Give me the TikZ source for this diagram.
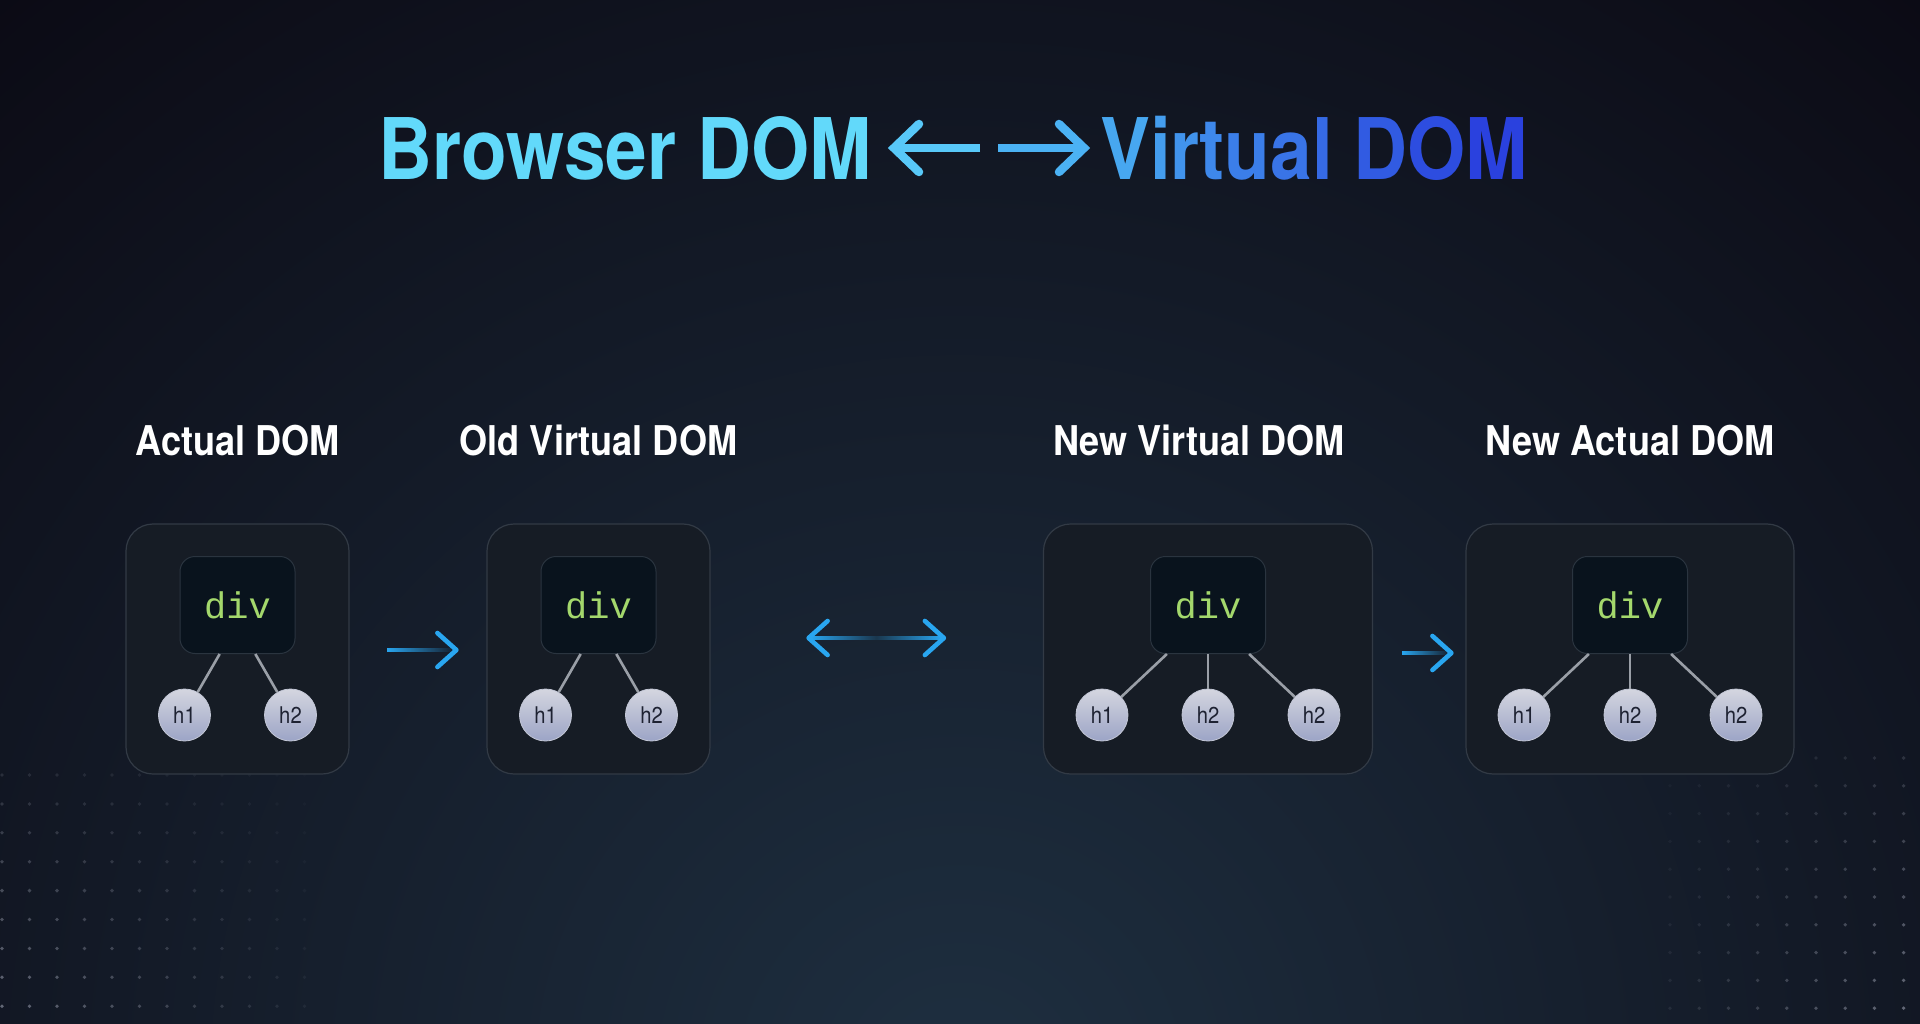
\documentclass[tikz,border=0pt]{standalone}
\usepackage{fontspec}
\usetikzlibrary{positioning,fadings,calc}

\newfontfamily\grotesk[FakeStretch=0.88]{TeX Gyre Heros}
\newfontfamily\codefont{Liberation Mono}

\definecolor{bgc}{HTML}{0B0A14}
\definecolor{glowc}{HTML}{1E2F40}
\definecolor{dotc}{HTML}{767B8A}
\definecolor{cardc}{HTML}{161C25}
\definecolor{cardedge}{HTML}{323A45}
\definecolor{divc}{HTML}{09131D}
\definecolor{divedge}{HTML}{2A343F}
\definecolor{divtext}{HTML}{A4D86C}
\definecolor{leaftop}{HTML}{D4D6E0}
\definecolor{leafbot}{HTML}{9CA4C6}
\definecolor{leafedge}{HTML}{C3C7D6}
\definecolor{leaftext}{HTML}{1E2232}
\definecolor{linkc}{HTML}{9A9FA7}
\definecolor{flowc}{HTML}{29A6F0}
\definecolor{browsc}{HTML}{62D9FA}
\definecolor{arrl}{HTML}{58C8F8}
\definecolor{arrr}{HTML}{4BB2F4}
\definecolor{virA}{HTML}{47A7F0}
\definecolor{virB}{HTML}{2A41DE}

\newcommand\gl[2]{\textcolor{virB!#1!virA}{#2}}

\tikzfading[name=midfade, left color=transparent!0, right color=transparent!0, middle color=transparent!85]

\tikzset{
  title/.style={inner sep=0pt, font=\grotesk\bfseries\fontsize{85}{90}\selectfont},
  head/.style={inner sep=0pt, anchor=base, text=white, font=\grotesk\bfseries\fontsize{41}{46}\selectfont},
  card/.style={draw=cardedge, line width=1.2pt, fill=cardc, rounded corners=27pt, minimum height=250pt},
  divbox/.style={draw=divedge, line width=1pt, fill=divc, rounded corners=15pt, minimum width=115pt, minimum height=97pt, text=divtext, font=\codefont\fontsize{37}{40}\selectfont},
  leaf/.style={circle, inner sep=0pt, minimum size=52pt, draw=leafedge, line width=.8pt, top color=leaftop, bottom color=leafbot, text=leaftext, font=\grotesk\fontsize{23}{26}\selectfont},
  link/.style={draw=linkc, line width=2.6pt},
  tip/.style={draw=flowc, line width=4.6pt, line cap=round, line join=round},
  bigtip/.style={line width=8.5pt, line join=miter}
}

\begin{document}
\begin{tikzpicture}[x=1pt, y=-1pt]
\useasboundingbox (0,0) rectangle (1920,1024);
\fill[bgc] (0,0) rectangle (1920,1024);
\begin{scope}
\clip (0,0) rectangle (1920,1024);
\shade[inner color=glowc, outer color=bgc] (960,1080) ellipse (1500 and 1450);
\end{scope}

\foreach \i in {0,...,11}
  \foreach \j in {0,...,8} {
    \pgfmathsetmacro\op{0.8*(1-\i/13)*(0.3+0.7*\j/8)}
    \fill[dotc, opacity=\op] (2+27.5*\i, 775+28.9*\j) circle (1.9);
  }
\foreach \i in {0,...,8}
  \foreach \j in {0,...,9} {
    \pgfmathsetmacro\op{0.8*((\i+2)/10)*(0.35+0.65*\j/9)}
    \fill[dotc, opacity=\op] (1670+29.2*\i, 758+27.8*\j) circle (1.9);
  }

\node (bd) [title, anchor=base east, text=browsc] at (872,180) {Browser DOM};
\node (vd) [title, anchor=base west] at (1100,180)
  {\gl{0}{V}\gl{10}{i}\gl{20}{r}\gl{30}{t}\gl{40}{u}\gl{50}{a}\gl{60}{l} \gl{75}{D}\gl{88}{O}\gl{100}{M}};
\path (bd.base east) ++(22,-32) coordinate (lat) ++(86,0) coordinate (las);
\path (vd.base west) ++(-102,-32) coordinate (ras) ++(86,0) coordinate (rat);
\draw[arrl, bigtip] (las) -- (lat);
\draw[arrl, bigtip, line cap=round] (lat) ++(25,-24) -- (lat) -- ++(25,24);
\draw[arrr, bigtip] (ras) -- (rat);
\draw[arrr, bigtip, line cap=round] (rat) ++(-25,-24) -- (rat) -- ++(-25,24);

\node (b1) [card, minimum width=223pt] at (237.5,649) {};
\node (b2) [card, minimum width=223pt] at (598.5,649) {};
\node (b3) [card, minimum width=329pt] at (1208,649) {};
\node (b4) [card, minimum width=328pt] at (1630,649) {};

\path (b1.north) ++(0,-68) node (t1) [head] {Actual DOM};
\path (b2.north) ++(0,-68) node (t2) [head] {Old Virtual DOM};
\path (b3.north) ++(-9,-68) node (t3) [head] {New Virtual DOM};
\path (b4.north) ++(0,-68) node (t4) [head] {New Actual DOM};

\path (b1) ++(0,-44) node (d1) [divbox] {div}
  ++(-53,110) node (b1l) [leaf] {h1} ++(106,0) node (b1r) [leaf] {h2};
\path (b2) ++(0,-44) node (d2) [divbox] {div}
  ++(-53,110) node (b2l) [leaf] {h1} ++(106,0) node (b2r) [leaf] {h2};
\path (b3) ++(0,-44) node (d3) [divbox] {div}
  ++(-106,110) node (b3l) [leaf] {h1} ++(106,0) node (b3m) [leaf] {h2}
  ++(106,0) node (b3r) [leaf] {h2};
\path (b4) ++(0,-44) node (d4) [divbox] {div}
  ++(-106,110) node (b4l) [leaf] {h1} ++(106,0) node (b4m) [leaf] {h2}
  ++(106,0) node (b4r) [leaf] {h2};

\draw[link] (d1.-110) -- (b1l);
\draw[link] (d1.-70) -- (b1r);
\draw[link] (d2.-110) -- (b2l);
\draw[link] (d2.-70) -- (b2r);
\draw[link] (d3.-130) -- (b3l);
\draw[link] (d3.south) -- (b3m);
\draw[link] (d3.-50) -- (b3r);
\draw[link] (d4.-130) -- (b4l);
\draw[link] (d4.south) -- (b4m);
\draw[link] (d4.-50) -- (b4r);

\path (b1.east) ++(37,1) coordinate (a1s);
\path (b2.west) ++(-30,1) coordinate (a1e);
\fill[flowc, path fading=east] ($(a1s)+(0,-2.2)$) rectangle ($(a1e)+(-2,2.2)$);
\draw[tip] (a1e) ++(-19,-17) -- (a1e) -- ++(-19,17);

\path (b2.east) ++(98,-11) coordinate (a2s);
\path (b3.west) ++(-99,-11) coordinate (a2e);
\fill[flowc, path fading=midfade] ($(a2s)+(2,-2.2)$) rectangle ($(a2e)+(-2,2.2)$);
\draw[tip] (a2s) ++(19,-17) -- (a2s) -- ++(19,17);
\draw[tip] (a2e) ++(-19,-17) -- (a2e) -- ++(-19,17);

\path (b3.east) ++(29,4) coordinate (a3s);
\path (b4.west) ++(-14,4) coordinate (a3e);
\fill[flowc, path fading=east] ($(a3s)+(0,-2.2)$) rectangle ($(a3e)+(-2,2.2)$);
\draw[tip] (a3e) ++(-19,-17) -- (a3e) -- ++(-19,17);
\end{tikzpicture}
\end{document}
